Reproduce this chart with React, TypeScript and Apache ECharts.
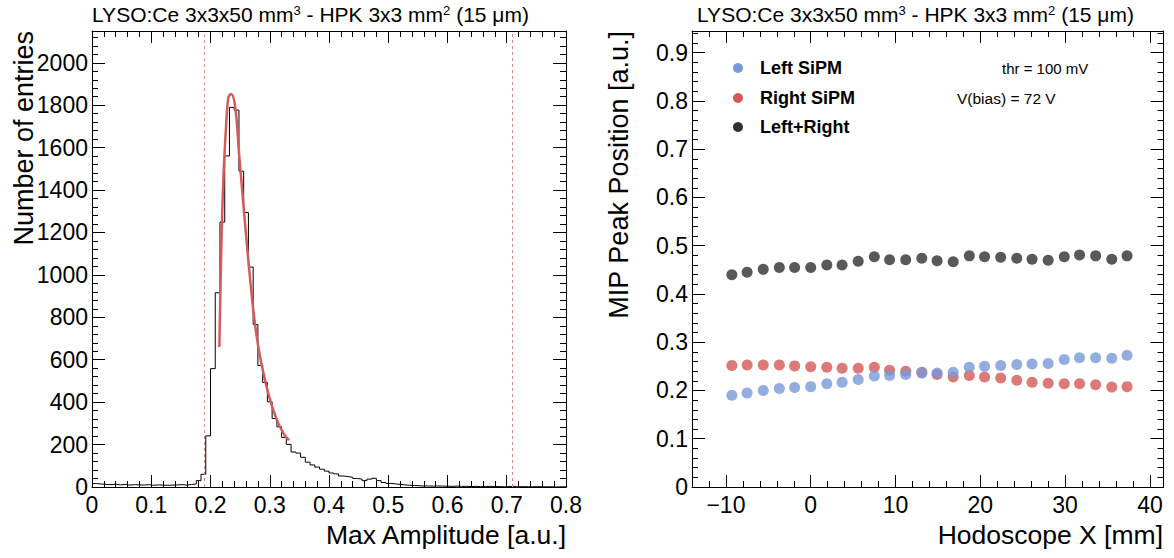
import React, { useEffect, useRef } from "react";
import * as echarts from "echarts";

// ---------- Left panel: Max amplitude histogram ----------
const BIN_WIDTH = 0.008; // 100 bins from 0 to 0.8
const histCounts = [
  16, 14, 12, 11, 13, 10, 12, 9, 11, 10, 9, 11, 8, 10, 9, 8, 9, 10, 11, 9, 12, 14, 30,
  60, 241, 558, 916, 1249, 1561, 1790, 1777, 1489, 1294, 1037, 766, 573, 493, 402, 323, 284,
  234, 201, 165, 160, 140, 117, 104, 94, 84, 75, 66, 62, 52, 49, 46, 40, 37, 30, 37, 41,
  30, 21, 17, 15, 12, 10, 8, 7,
  6, 5, 5, 4, 5, 4, 4, 3, 4, 3,
  3, 2, 3, 2, 2, 3, 2, 2, 1, 2, 2, 1, 2, 1, 1, 2, 1, 1, 1, 0, 1, 1,
];
const fitX = [0.2149, 0.2183, 0.2216, 0.2262, 0.2301, 0.2346, 0.2414, 0.2487, 0.2554, 0.2639, 0.2723, 0.2807, 0.292, 0.3032, 0.3145, 0.3241, 0.3325];
const fitY = [660, 1131, 1445, 1696, 1834, 1853, 1798, 1555, 1336, 1068, 833, 660, 504, 386, 300, 249, 221];
const cutLines = [0.192, 0.715];

// ---------- Right panel: MIP peak position vs hodoscope X ----------
const hodoX = [-9.3, -7.5, -5.6, -3.7, -1.9, 0.0, 1.9, 3.7, 5.6, 7.5, 9.3, 11.2, 13.1, 14.9, 16.8, 18.7, 20.5, 22.4, 24.3, 26.1, 28.0, 29.9, 31.7, 33.6, 35.5, 37.3];
const leftSiPM = [0.190, 0.195, 0.200, 0.204, 0.206, 0.208, 0.214, 0.217, 0.223, 0.230, 0.231, 0.233, 0.236, 0.236, 0.238, 0.248, 0.250, 0.252, 0.254, 0.255, 0.256, 0.264, 0.268, 0.268, 0.267, 0.273];
const rightSiPM = [0.252, 0.253, 0.253, 0.253, 0.251, 0.249, 0.248, 0.246, 0.246, 0.248, 0.242, 0.240, 0.238, 0.233, 0.228, 0.231, 0.228, 0.226, 0.221, 0.217, 0.215, 0.214, 0.214, 0.212, 0.207, 0.208];
const sumSiPM = [0.440, 0.445, 0.451, 0.455, 0.455, 0.455, 0.460, 0.460, 0.468, 0.477, 0.471, 0.471, 0.474, 0.469, 0.467, 0.479, 0.477, 0.476, 0.474, 0.472, 0.470, 0.477, 0.481, 0.479, 0.472, 0.479];

const seriesNames = ["Left SiPM", "Right SiPM", "Left+Right"];
const seriesColors = ["#7899d8", "#d45858", "#303030"];
const infoLines = ["thr = 100 mV", "V(bias) = 72 V"];

const FONT = '"Liberation Sans", Arial, Helvetica, sans-serif';
const BLACK = "#000";

function axisBase(opts: any) {
  return {
    type: "value",
    axisLine: { show: true, onZero: false, lineStyle: { color: BLACK, width: 1 } },
    axisTick: { show: true, inside: true, length: opts.tickLen, lineStyle: { color: BLACK, width: 1 } },
    minorTick: { show: true, splitNumber: 5, length: opts.minorLen, lineStyle: { color: BLACK, width: 1 } },
    splitLine: { show: false },
    minorSplitLine: { show: false },
    ...opts.rest,
  };
}

const fmtNum = (v: number) => {
  const s = String(Math.round(v * 1000) / 1000);
  return v < 0 ? "\u2212" + s.slice(1) : s;
};

export default function App() {
  const ref = useRef<HTMLDivElement>(null);
  useEffect(() => {
    if (!ref.current) return;
    const chart = echarts.init(ref.current, null, { renderer: "svg" });

    const histData = histCounts.map((c, i) => [i * BIN_WIDTH, c]);
    histData.push([histCounts.length * BIN_WIDTH, histCounts[histCounts.length - 1]]);
    const fitData = fitX.map((x, i) => [x, fitY[i]]);

    const labelStyle = { show: true, color: BLACK, fontSize: 23, fontFamily: FONT };

    const xLeft = { min: 0, max: 0.8, interval: 0.1 };
    const yLeft = { min: 0, max: 2150, interval: 200 };
    const xRight = { min: -14, max: 41.6, splitNumber: 5 };
    const yRight = { min: 0, max: 0.945, interval: 0.1 };

    const titleRich = {
      a: { fontSize: 21, fontFamily: FONT, color: BLACK },
      s: { fontSize: 13, fontFamily: FONT, color: BLACK, verticalAlign: "top" },
    };
    const titleText = "{a|LYSO:Ce 3x3x50 mm}{s|3}{a| - HPK 3x3 mm}{s|2}{a| (15 \u03bcm)}";

    const legendY = [68, 98, 127];

    const option: any = {
      animation: false,
      backgroundColor: "#fff",
      grid: [
        { left: 92, top: 31, width: 474, height: 456, containLabel: false },
        { left: 692, top: 31, width: 471.5, height: 456, containLabel: false },
      ],
      xAxis: [
        axisBase({ tickLen: 12, minorLen: 6, rest: { gridIndex: 0, position: "bottom", ...xLeft,
          axisLabel: { ...labelStyle, margin: 6, formatter: fmtNum } } }),
        axisBase({ tickLen: 12, minorLen: 6, rest: { gridIndex: 0, position: "top", ...xLeft, axisLabel: { show: false } } }),
        axisBase({ tickLen: 12, minorLen: 6, rest: { gridIndex: 1, position: "bottom", ...xRight,
          axisLabel: { ...labelStyle, margin: 6, showMinLabel: false, showMaxLabel: false, formatter: fmtNum } } }),
        axisBase({ tickLen: 12, minorLen: 6, rest: { gridIndex: 1, position: "top", ...xRight, axisLabel: { show: false } } }),
      ],
      yAxis: [
        axisBase({ tickLen: 13, minorLen: 6, rest: { gridIndex: 0, position: "left", ...yLeft,
          axisLabel: { ...labelStyle, margin: 4, showMaxLabel: false, formatter: fmtNum } } }),
        axisBase({ tickLen: 13, minorLen: 6, rest: { gridIndex: 0, position: "right", ...yLeft, axisLabel: { show: false } } }),
        axisBase({ tickLen: 13, minorLen: 6, rest: { gridIndex: 1, position: "left", ...yRight,
          axisLabel: { ...labelStyle, margin: 4, showMaxLabel: false, formatter: fmtNum } } }),
        axisBase({ tickLen: 13, minorLen: 6, rest: { gridIndex: 1, position: "right", ...yRight, axisLabel: { show: false } } }),
      ],
      series: [
        {
          name: "Histogram",
          type: "line",
          xAxisIndex: 0,
          yAxisIndex: 0,
          data: histData,
          step: "end",
          symbol: "none",
          lineStyle: { color: BLACK, width: 1 },
          z: 3,
          markLine: {
            silent: true,
            symbol: ["none", "none"],
            label: { show: false },
            lineStyle: { type: [3, 3], color: "#d98a8a", width: 1 },
            data: cutLines.map((v) => ({ xAxis: v })),
          },
        },
        {
          name: "Fit",
          type: "line",
          xAxisIndex: 0,
          yAxisIndex: 0,
          data: fitData,
          smooth: 0.4,
          symbol: "none",
          lineStyle: { color: "#d55a5a", width: 2.5 },
          z: 4,
        },
        {
          name: seriesNames[2],
          type: "scatter",
          xAxisIndex: 2,
          yAxisIndex: 2,
          data: hodoX.map((x, i) => [x, sumSiPM[i]]),
          symbolSize: 11,
          itemStyle: { color: seriesColors[2] },
        },
        {
          name: seriesNames[1],
          type: "scatter",
          xAxisIndex: 2,
          yAxisIndex: 2,
          data: hodoX.map((x, i) => [x, rightSiPM[i]]),
          symbolSize: 11,
          itemStyle: { color: seriesColors[1] },
        },
        {
          name: seriesNames[0],
          type: "scatter",
          xAxisIndex: 2,
          yAxisIndex: 2,
          data: hodoX.map((x, i) => [x, leftSiPM[i]]),
          symbolSize: 11,
          itemStyle: { color: seriesColors[0] },
        },
      ],
      graphic: [
        { type: "text", left: 92, top: 4, style: { text: titleText, rich: titleRich, fill: BLACK } },
        { type: "text", left: 697, top: 4, style: { text: titleText, rich: titleRich, fill: BLACK } },
        { type: "text", x: 566, y: 535, style: { text: "Max Amplitude [a.u.]", fontSize: 26.5, fontFamily: FONT, fill: BLACK, align: "right", verticalAlign: "middle" } },
        { type: "text", x: 1163, y: 535, style: { text: "Hodoscope X [mm]", fontSize: 26.5, fontFamily: FONT, fill: BLACK, align: "right", verticalAlign: "middle" } },
        { type: "text", x: 24, y: 31, rotation: Math.PI / 2, style: { text: "Number of entries", fontSize: 27, fontFamily: FONT, fill: BLACK, align: "right", verticalAlign: "middle" } },
        { type: "text", x: 619, y: 31, rotation: Math.PI / 2, style: { text: "MIP Peak Position [a.u.]", fontSize: 27, fontFamily: FONT, fill: BLACK, align: "right", verticalAlign: "middle" } },
        ...seriesNames.flatMap((n, i) => [
          { type: "circle", shape: { cx: 738, cy: legendY[i], r: 5 }, style: { fill: seriesColors[i] } },
          { type: "text", x: 760, y: legendY[i], style: { text: n, fontSize: 18, fontWeight: "bold", fontFamily: FONT, fill: BLACK, align: "left", verticalAlign: "middle" } },
        ]),
        { type: "text", x: 1002, y: 68, style: { text: infoLines[0], fontSize: 15, fontFamily: FONT, fill: BLACK, align: "left", verticalAlign: "middle" } },
        { type: "text", x: 957, y: 98, style: { text: infoLines[1], fontSize: 15.5, fontFamily: FONT, fill: BLACK, align: "left", verticalAlign: "middle" } },
      ],
    };
    chart.setOption(option);
    return () => chart.dispose();
  }, []);
  return (
    <div
      ref={ref}
      style={{ position: "absolute", left: 0, top: 0, width: 1174, height: 558, background: "#fff" }}
    />
  );
}
